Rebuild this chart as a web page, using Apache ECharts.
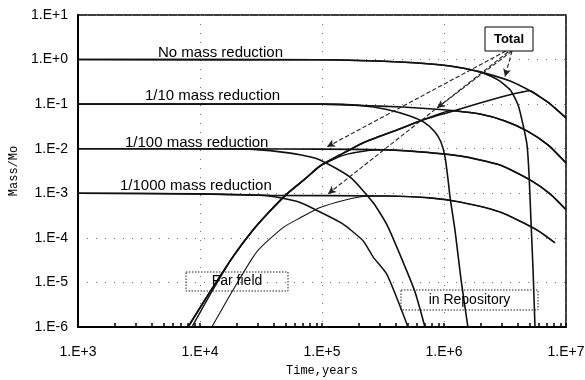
<!DOCTYPE html>
<html><head><meta charset="utf-8">
<script src="https://cdn.jsdelivr.net/npm/echarts@6/dist/echarts.min.js"></script>
<style>html,body{margin:0;padding:0;background:#fff}#c{width:585px;height:380px}</style>
</head><body><div id="c"></div>
<script>
// Tick labels
const xTickLabels = ['1.E+3','1.E+4','1.E+5','1.E+6','1.E+7'];
const yTickLabels = ['1.E-6','1.E-5','1.E-4','1.E-3','1.E-2','1.E-1','1.E+0','1.E+1'];
// Minor tick positions on the time axis
const minorTickDecades = [1e3,1e4,1e5,1e6];
const minorTickSteps = [2,3,4,5,6,7,8,9];

// Series: [time (years), Mass/Mo]
const repoNone = [[1e3,1],[1e5,0.99],[4.36e5,0.88],[1.12e6,0.72],[1.97e6,0.53],[2.77e6,0.35],[3.48e6,0.21],[4.05e6,0.096],[4.45e6,0.034],[4.79e6,0.0122],[4.98e6,0.0026],[5.16e6,2.5e-4],[5.37e6,1.9e-5],[5.57e6,1e-6]];
const totalNone = [[1e3,1],[1e5,0.99],[4.36e5,0.88],[1.12e6,0.72],[1.97e6,0.53],[3.48e6,0.33],[5.07e6,0.2],[6.12e6,0.145],[7.40e6,0.101],[1e7,0.049]];
const farNone = [[7.98e3,1e-6],[1.21e4,6.2e-6],[1.86e4,3.75e-5],[2.72e4,1.5e-4],[3.75e4,4.0e-4],[5.16e4,9.7e-4],[7.26e4,2.1e-3],[9.64e4,4.1e-3],[1.41e5,7.3e-3],[2.17e5,0.0135],[4.12e5,0.0264],[6.35e5,0.042],[1.12e6,0.067],[1.97e6,0.106],[3.16e6,0.153],[4.3e6,0.185],[5.07e6,0.2],[6.12e6,0.145],[7.40e6,0.101],[1e7,0.049]];

const repo10 = [[1e3,0.1],[1e5,0.1],[2.05e5,0.093],[3.41e5,0.076],[5.26e5,0.054],[6.98e5,0.038],[8.43e5,0.0238],[9.44e5,0.0142],[1.02e6,0.0065],[1.08e6,0.0020],[1.12e6,8.3e-4],[1.23e6,1.5e-4],[1.38e6,1.14e-5],[1.57e6,1e-6]];
const total10 = [[1e3,0.1],[1e5,0.1],[2.47e5,0.092],[4.61e5,0.086],[9.27e5,0.076],[1.12e6,0.073],[1.97e6,0.060],[3.16e6,0.042],[4.79e6,0.0251],[7.11e6,0.0122],[1e7,0.0048]];
const far10 = [[7.98e3,1e-6],[1.21e4,6.2e-6],[1.86e4,3.75e-5],[2.72e4,1.5e-4],[3.75e4,4.0e-4],[5.16e4,9.7e-4],[7.26e4,2.1e-3],[9.64e4,4.1e-3],[1.41e5,7.3e-3],[2.17e5,0.0135],[4.12e5,0.0264],[6.35e5,0.042],[9.27e5,0.061],[1.12e6,0.071],[1.97e6,0.060],[3.16e6,0.042],[4.79e6,0.0251],[7.11e6,0.0122],[1e7,0.0048]];

const repo100 = [[1e3,0.01],[2.13e4,0.0099],[3.10e4,0.0094],[4.53e4,0.0085],[6.61e4,0.0073],[9.64e4,0.0056],[1.70e5,0.0023],[2.62e5,6.2e-4],[3.41e5,1.95e-4],[4.61e5,2.9e-5],[5.78e5,6.2e-6],[6.98e5,1e-6]];
const total100 = [[1e3,0.01],[2.13e4,0.0099],[9.64e4,0.0098],[3.41e5,0.0094],[6.35e5,0.0085],[1.35e6,0.0069],[2.88e6,0.0043],[5.07e6,0.0020],[7.40e6,9.7e-4],[1e7,4.3e-4]];
const far100 = [[8.59e3,1e-6],[1.25e4,6.2e-6],[1.86e4,3.75e-5],[2.72e4,1.5e-4],[3.75e4,4.0e-4],[5.16e4,9.7e-4],[7.26e4,2.1e-3],[9.64e4,4.1e-3],[1.49e5,7.1e-3],[2.25e5,0.0089],[3.41e5,0.0094],[6.35e5,0.0085],[1.35e6,0.0069],[2.88e6,0.0043],[5.07e6,0.0020],[7.40e6,9.7e-4],[1e7,4.3e-4]];

const repo1000 = [[1e3,1e-3],[1e4,9.7e-4],[3.10e4,9.0e-4],[4.53e4,7.9e-4],[6.61e4,6.2e-4],[9.64e4,3.8e-4],[1.46e5,2.1e-4],[2.17e5,8.6e-5],[2.62e5,3.75e-5],[3.41e5,1.5e-5],[5.07e5,1e-6]];
const total1000 = [[1e3,1e-3],[1e4,9.7e-4],[3.75e4,9.0e-4],[3.41e5,8.7e-4],[7.67e5,7.9e-4],[1.35e6,6.4e-4],[2.88e6,3.8e-4],[5.78e6,1.5e-4],[8.13e6,7.7e-5]];
const far1000 = [[1.25e4,1e-6],[1.83e4,6.2e-6],[2.93e4,4.9e-5],[4.79e4,1.7e-4],[6.61e4,2.8e-4],[9.64e4,4.8e-4],[1.55e5,7.1e-4],[2.17e5,8.5e-4],[3.41e5,8.7e-4],[7.67e5,7.9e-4],[1.35e6,6.4e-4],[2.88e6,3.8e-4],[5.78e6,1.5e-4],[8.13e6,7.7e-5]];

// Annotation arrows from the "Total" box (data coordinates)
const totalArrows = [
  [[3.61e6,1.56],[3.16e6,0.41]],
  [[3.61e6,1.56],[8.77e5,0.082]],
  [[3.22e6,1.56],[1.10e5,0.011]],
  [[3.35e6,1.48],[1.12e5,9.7e-4]]
];

const curveLabels = ['No mass reduction','1/10 mass reduction','1/100 mass reduction','1/1000 mass reduction'];

const chart = echarts.init(document.getElementById('c'), null, {renderer:'canvas'});
const FONT = 'Liberation Sans, Arial, sans-serif';
const MONO = 'Liberation Mono, Courier New, monospace';
function line(data, w, extra) {
  return Object.assign({type:'line', data:data, symbol:'none', smooth:0.2,
    lineStyle:{color:'#111', width:w}, animation:false, silent:true, z:3}, extra||{});
}
const minorTicks = [];
minorTickDecades.forEach(d => minorTickSteps.forEach(s => minorTicks.push(d*s)));

const series = [
  line(repoNone,1.6), line(totalNone,1.6), line(farNone,1.6, {
    markLine:{silent:true, animation:false, symbol:['none','arrow'], symbolSize:[6,8],
      lineStyle:{type:'dashed', color:'#222', width:1.1}, label:{show:false},
      data: totalArrows.map(a => [{coord:a[0]},{coord:a[1]}])}
  }),
  line(repo10,1.6), line(total10,1.6), line(far10,1.6),
  line(repo100,1.6), line(total100,1.6), line(far100,1.4),
  line(repo1000,1.5), line(total1000,1.6), line(far1000,1.1)
];

const labelPos = [[158,52.5],[145,96],[125,143],[120,186]];
const graphics = curveLabels.map((t,i) => ({type:'text', x:labelPos[i][0], y:labelPos[i][1], z:10,
  style:{text:t, font:'15px '+FONT, fill:'#000', textAlign:'left', textVerticalAlign:'middle'}}));
graphics.push(
  {type:'rect', shape:{x:485,y:27,width:48,height:24}, z:10, style:{fill:'#fff', stroke:'#000', lineWidth:1}},
  {type:'text', x:509, y:39.5, z:11, style:{text:'Total', font:'bold 13px '+FONT, fill:'#000', textAlign:'center', textVerticalAlign:'middle'}},
  {type:'rect', shape:{x:186,y:272,width:102,height:19}, z:10, style:{fill:'rgba(255,255,255,0)', stroke:'#222', lineWidth:1, lineDash:[1.5,1.5]}},
  {type:'text', x:237, y:281.5, z:11, style:{text:'Far field', font:'14px '+FONT, fill:'#000', textAlign:'center', textVerticalAlign:'middle'}},
  {type:'rect', shape:{x:401,y:290,width:137,height:20}, z:10, style:{fill:'rgba(255,255,255,0)', stroke:'#222', lineWidth:1, lineDash:[1.5,1.5]}},
  {type:'text', x:469.5, y:300, z:11, style:{text:'in Repository', font:'14px '+FONT, fill:'#000', textAlign:'center', textVerticalAlign:'middle'}}
);

chart.setOption({
  backgroundColor:'#fff',
  animation:false,
  grid:{left:78, right:19, top:15, bottom:53, show:true, borderColor:'#000', borderWidth:1.5,
    backgroundColor:'transparent', containLabel:false, outerBoundsMode:'none'},
  xAxis:[{type:'log', logBase:10, min:1e3, max:1e7,
    name:'Time,years', nameLocation:'middle', nameGap:38,
    nameTextStyle:{fontFamily:MONO, fontSize:12, color:'#000'},
    axisLine:{lineStyle:{color:'#000', width:2}},
    axisTick:{show:true, inside:true, length:4, lineStyle:{color:'#000', width:1.5}},
    splitLine:{show:true, lineStyle:{color:'#777', type:[1,8], width:1}},
    axisLabel:{fontFamily:FONT, fontSize:14, color:'#000', margin:18,
      formatter: v => xTickLabels[Math.round(Math.log10(v))-3]}
  },{type:'log', logBase:10, min:1e3, max:1e7, position:'bottom',
    axisLine:{show:false}, axisLabel:{show:false}, splitLine:{show:false},
    axisTick:{show:true, inside:true, length:4, customValues:minorTicks, lineStyle:{color:'#000', width:1.5}}
  }],
  yAxis:{type:'log', logBase:10, min:1e-6, max:10,
    name:'Mass/Mo', nameLocation:'middle', nameGap:58,
    nameTextStyle:{fontFamily:MONO, fontSize:12, color:'#000'},
    axisLine:{lineStyle:{color:'#000', width:2}},
    axisTick:{show:false},
    splitLine:{show:true, lineStyle:{color:'#777', type:[1,8], width:1}},
    axisLabel:{fontFamily:FONT, fontSize:14, color:'#000', margin:10,
      formatter: v => yTickLabels[Math.round(Math.log10(v))+6]}
  },
  series: series,
  graphic: graphics
});
</script>
</body></html>
